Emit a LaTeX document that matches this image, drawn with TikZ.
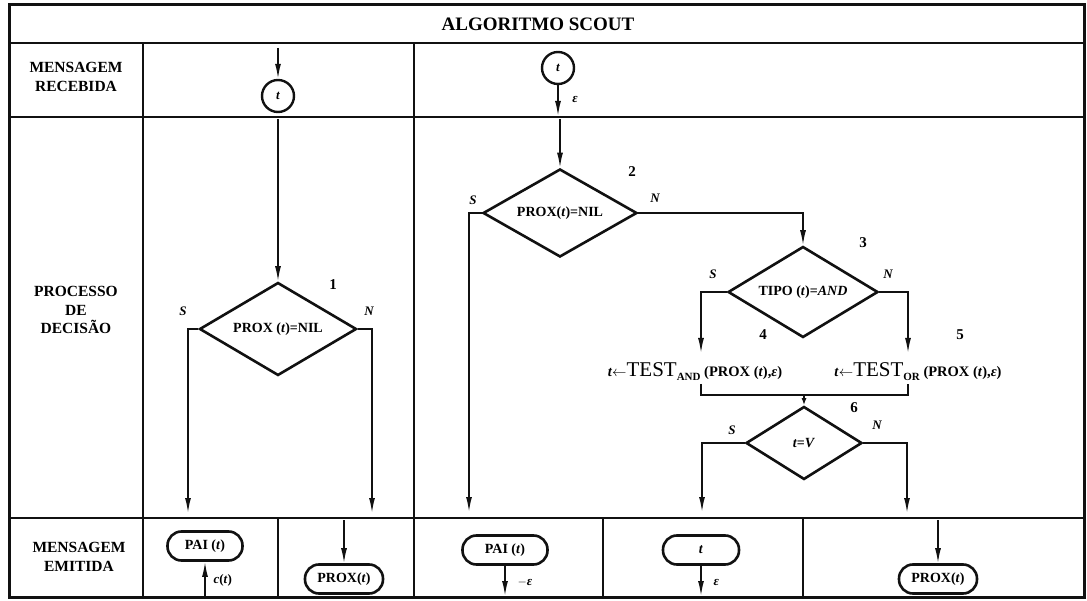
\documentclass[tikz,border=0pt]{standalone}
\usepackage{fontspec}
\setmainfont{Liberation Serif}
\usepackage{tikz}
\usetikzlibrary{
  arrows.meta,
  positioning,
  shapes.geometric,
  calc
}
\definecolor{inkblack}{HTML}{111111}
\tikzset{
  frameline/.style={line width=3pt, draw=inkblack},
  gridline/.style={line width=2.6pt, draw=inkblack},
  flow/.style={
    line width=1.6pt, draw=inkblack,
    -{Latex[length=15pt,width=6pt]}
  },
  shortflow/.style={
    line width=1.6pt, draw=inkblack,
    -{Latex[length=7pt,width=5pt]}
  },
  plainflow/.style={line width=1.6pt, draw=inkblack},
  decision/.style={
    diamond, draw=inkblack, line width=2.6pt, inner sep=0pt, aspect=1.7,
    font=\fontsize{14}{16}\selectfont\bfseries
  },
  msgcirc/.style={
    circle, draw=inkblack, line width=2.4pt, minimum size=32pt, inner sep=0pt,
    font=\fontsize{13}{15}\selectfont\bfseries\itshape
  },
  msgbox/.style={
    rectangle, rounded corners=14pt, draw=inkblack, line width=2.6pt,
    minimum width=#1, minimum height=29pt, inner sep=2pt,
    font=\fontsize{14}{16}\selectfont\bfseries
  },
  msgbox/.default=78pt,
  titletext/.style={font=\fontsize{19}{22}\selectfont\bfseries},
  rowlabel/.style={align=center, font=\fontsize{15.5}{18.5}\selectfont\bfseries},
  branchlabel/.style={font=\fontsize{13}{15}\selectfont\bfseries\itshape},
  stepnum/.style={font=\fontsize{15}{17}\selectfont\bfseries},
  testtext/.style={font=\fontsize{14.5}{16}\selectfont\bfseries, inner sep=1pt},
  msgnote/.style={font=\fontsize{13}{15}\selectfont\bfseries, anchor=west},
}

\begin{document}
\begin{tikzpicture}[x=1pt,y=-1pt]
  \useasboundingbox (0,0) rectangle (1087,601);

  % table
  \draw[frameline] (9,5) rectangle (1084,597);
  \draw[gridline] (9,43) -- (1084,43);
  \draw[gridline] (9,117) -- (1084,117);
  \draw[gridline] (9,518) -- (1084,518);
  \draw[gridline] (143,43) -- (143,597);
  \draw[gridline] (414,43) -- (414,597);
  \foreach \xc in {278,603,803}
    \draw[gridline] (\xc,518) -- (\xc,597);

  \node[titletext] (title) at (538,24) {ALGORITMO SCOUT};
  \node[rowlabel] (recebida) at (76,77) {MENSAGEM\\RECEBIDA};
  \node[rowlabel] (decisao) at (76,310) {PROCESSO\\DE\\DECISÃO};
  \node[rowlabel] (emitida) at (79,557) {MENSAGEM\\EMITIDA};

  % received messages
  \node[msgcirc] (in1) at (278,96) {t};
  \coordinate (in1-src) at (278,48);
  \draw[flow] (in1-src) -- (in1.north);
  \node[msgcirc] (in2) at (558,68) {t};
  \coordinate (in2-out) at (558,116);
  \draw[flow] (in2.south) -- (in2-out);
  \node[branchlabel] (in2-eps) at (575,100) {ε};

  % decision 1
  \node[decision, minimum width=157pt, minimum height=93pt] (d1) at (278,329)
    {PROX (\textit{t})=NIL};
  \coordinate (d1-src) at (278,119);
  \coordinate (d1-yes) at (188,513);
  \coordinate (d1-no) at (372,513);
  \draw[flow] (d1-src) -- (d1.north);
  \draw[flow] (d1.west) -| (d1-yes);
  \draw[flow] (d1.east) -| (d1-no);
  \node[stepnum] (n1) at (333,285) {1};
  \node[branchlabel] (s1) at (183,311) {S};
  \node[branchlabel] (no1) at (369,311) {N};

  % decision 2
  \node[decision, minimum width=154pt, minimum height=88pt] (d2) at (560,213)
    {PROX(\textit{t})=NIL};
  \coordinate (d2-src) at (560,119);
  \coordinate (d2-yes) at (469,512);
  \draw[flow] (d2-src) -- (d2.north);
  \draw[flow] (d2.west) -| (d2-yes);
  \node[stepnum] (n2) at (632,172) {2};
  \node[branchlabel] (s2) at (473,200) {S};
  \node[branchlabel] (no2) at (655,198) {N};

  % decision 3
  \node[decision, minimum width=150pt, minimum height=91pt] (d3) at (803,292)
    {TIPO (\textit{t})=\textit{AND}};
  \draw[flow] (d2.east) -| (d3.north);
  \coordinate (d3-yes) at (701,353);
  \coordinate (d3-no) at (908,353);
  \draw[flow] (d3.west) -| (d3-yes);
  \draw[flow] (d3.east) -| (d3-no);
  \node[stepnum] (n3) at (863,243) {3};
  \node[branchlabel] (s3) at (713,274) {S};
  \node[branchlabel] (no3) at (888,274) {N};

  % tests 4 and 5
  \node[stepnum] (n4) at (763,335) {4};
  \node[stepnum] (n5) at (960,335) {5};
  \node[testtext] (test4) at (695,372)
    {\textit{t}$\leftarrow${\fontsize{21}{22}\selectfont\mdseries TEST}\raisebox{-4pt}{\fontsize{11}{12}\selectfont AND}
     (PROX (\textit{t}),\textit{ε})};
  \node[testtext] (test5) at (918,372)
    {\textit{t}$\leftarrow${\fontsize{21}{22}\selectfont\mdseries TEST}\raisebox{-4pt}{\fontsize{11}{12}\selectfont OR}
     (PROX (\textit{t}),\textit{ε})};
  \coordinate (join-l) at (701,384);
  \coordinate (join-r) at (908,384);
  \coordinate (join) at (804,395);
  \draw[plainflow] (join-l) |- (join) -| (join-r);

  % decision 6
  \node[decision, minimum width=116pt, minimum height=73pt] (d6) at (804,443)
    {\textit{t}=\textit{V}};
  \draw[shortflow] (join) -- (d6.north);
  \coordinate (d6-yes) at (702,512);
  \coordinate (d6-no) at (907,513);
  \draw[flow] (d6.west) -| (d6-yes);
  \draw[flow] (d6.east) -| (d6-no);
  \node[stepnum] (n6) at (854,408) {6};
  \node[branchlabel] (s6) at (732,430) {S};
  \node[branchlabel] (no6) at (877,425) {N};

  % emitted messages
  \node[msgbox=75pt] (paiL) at (205,546) {PAI (\textit{t})};
  \coordinate (paiL-src) at (205,596);
  \draw[flow] (paiL-src) -- (paiL.south);
  \node[msgnote] (paiL-c) at (210,580) {\textit{c}(\textit{t})};

  \node[msgbox] (proxL) at (344,579) {PROX(\textit{t})};
  \coordinate (proxL-src) at (344,520);
  \draw[flow] (proxL-src) -- (proxL.north);

  \node[msgbox=85pt] (paiR) at (505,550) {PAI (\textit{t})};
  \coordinate (paiR-out) at (505,596);
  \draw[flow] (paiR.south) -- (paiR-out);
  \node[msgnote] (paiR-eps) at (514,582) {$-$\textit{ε}};

  \node[msgbox=76pt] (tmsg) at (701,550) {\textit{t}};
  \coordinate (tmsg-out) at (701,596);
  \draw[flow] (tmsg.south) -- (tmsg-out);
  \node[msgnote] (tmsg-eps) at (710,582) {\textit{ε}};

  \node[msgbox] (proxR) at (938,579) {PROX(\textit{t})};
  \coordinate (proxR-src) at (938,520);
  \draw[flow] (proxR-src) -- (proxR.north);
\end{tikzpicture}
\end{document}
